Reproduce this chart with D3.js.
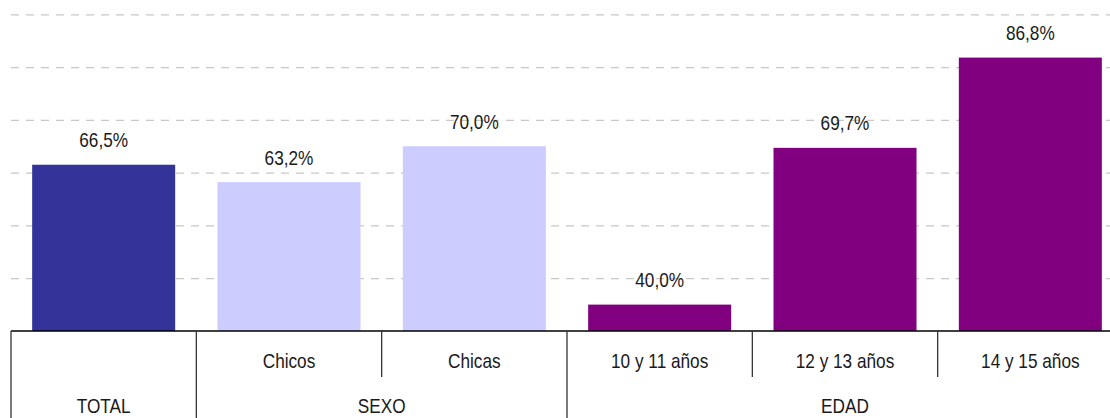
<!DOCTYPE html>
<html>
<head>
<meta charset="utf-8">
<script src="https://cdn.jsdelivr.net/npm/d3@7"></script>
<style>
  html, body { margin: 0; padding: 0; background: #fff; }
  svg { display: block; font-family: "Liberation Sans", Arial, sans-serif; }
</style>
</head>
<body>
<svg id="chart" width="1110" height="418"></svg>
<script>
// Categories, their group and the percentage for each bar
const categories = ["TOTAL", "Chicos", "Chicas", "10 y 11 años", "12 y 13 años", "14 y 15 años"];
const categoryLabels = ["", "Chicos", "Chicas", "10 y 11 años", "12 y 13 años", "14 y 15 años"];
const groups = ["TOTAL", "SEXO", "SEXO", "EDAD", "EDAD", "EDAD"];
const values = [66.5, 63.2, 70.0, 40.0, 69.7, 86.8];
const groupNames = ["TOTAL", "SEXO", "EDAD"];
const groupColors = ["#333399", "#CCCCFF", "#800080"];
const gridTicks = [45, 55, 65, 75, 85, 95];

const svg = d3.select("#chart");
const left = 11, right = 1123, baseY = 331, topY = 14.3;
const narrow = 0.82; // horizontal condensing for a narrow typeface look

const x = d3.scaleBand().domain(categories).range([left, right])
  .paddingInner(0.2284).paddingOuter(0.1142);
const y = d3.scaleLinear().domain([35, 95]).range([baseY, topY]);
const color = d3.scaleOrdinal().domain(groupNames).range(groupColors);

const locale = d3.formatLocale({ decimal: ",", thousands: ".", grouping: [3], currency: ["", "€"] });
const fmt = locale.format(".1f");

// Condensed, centred text label
function label(parent, cx, cy, str) {
  parent.append("g")
    .attr("transform", `translate(${cx},${cy}) scale(${narrow},1)`)
    .append("text")
    .attr("text-anchor", "middle")
    .attr("font-size", 21)
    .attr("fill", "#1a1a1a")
    .text(str);
}

// Dashed horizontal gridlines
svg.append("g")
  .attr("transform", `translate(${left},0)`)
  .call(d3.axisLeft(y).tickValues(gridTicks).tickSize(-(1110 - left)).tickFormat(""))
  .call(g => g.select(".domain").remove())
  .call(g => g.selectAll(".tick line")
    .attr("stroke", "#c8c8c8").attr("stroke-width", 1.3)
    .attr("stroke-dasharray", "8,7")
    .attr("x2", 1110 - left));

const data = categories.map((c, i) => ({ cat: c, label: categoryLabels[i], group: groups[i], value: values[i] }));

// Bars
svg.append("g").selectAll("rect").data(data).join("rect")
  .attr("x", d => x(d.cat))
  .attr("y", d => y(d.value))
  .attr("width", x.bandwidth())
  .attr("height", d => y(35) - y(d.value))
  .attr("fill", d => color(d.group));

// Value labels
const valueLayer = svg.append("g");
data.forEach(d => label(valueLayer, x(d.cat) + x.bandwidth() / 2, y(d.value) - 17.5, fmt(d.value) + "%"));

// Category axis
const step = x.step();
const cellStart = i => left + i * step;
svg.append("line")
  .attr("x1", left).attr("x2", 1110).attr("y1", baseY).attr("y2", baseY)
  .attr("stroke", "#000").attr("stroke-width", 1.3);

const sep = svg.append("g").attr("stroke", "#333").attr("stroke-width", 1.3);
categories.forEach((c, i) => {
  const major = i === 0 || groups[i] !== groups[i - 1];
  sep.append("line")
    .attr("x1", cellStart(i)).attr("x2", cellStart(i))
    .attr("y1", baseY).attr("y2", major ? 418 : 377);
});

const catLayer = svg.append("g");
data.forEach(d => { if (d.label) label(catLayer, x(d.cat) + x.bandwidth() / 2, 368, d.label); });

// Group labels centred under their span of categories
const groupLayer = svg.append("g");
groupNames.forEach(gname => {
  const idx = groups.map((g, i) => g === gname ? i : -1).filter(i => i >= 0);
  const x0 = cellStart(idx[0]);
  const x1 = cellStart(idx[idx.length - 1] + 1);
  label(groupLayer, (x0 + x1) / 2, 413, gname);
});
</script>
</body>
</html>
